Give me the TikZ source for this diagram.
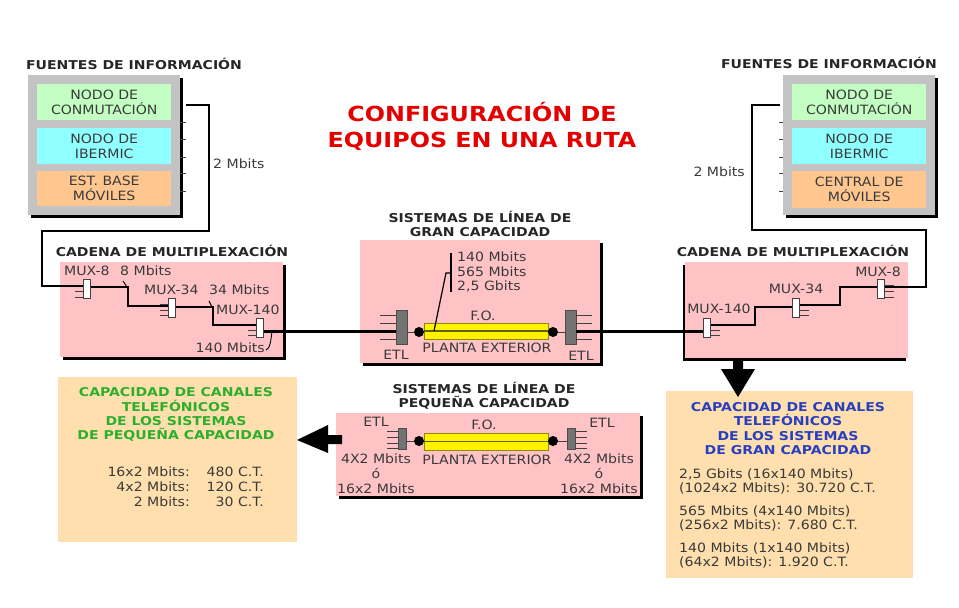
\documentclass[tikz,border=0pt]{standalone}
\usepackage{fontspec}
\setmainfont{DejaVu Sans}[FakeStretch=1.1,BoldFeatures={FakeStretch=1.15}]
\usetikzlibrary{positioning, shadows, arrows.meta}
\definecolor{gristxt}{HTML}{3A3A3A}
\definecolor{rosa}{HTML}{FFC3C6}
\definecolor{gris}{HTML}{C3C3C3}
\definecolor{verdeclaro}{HTML}{C3FFC3}
\definecolor{cian}{HTML}{8FFFFF}
\definecolor{naranja}{HTML}{FFC78F}
\definecolor{crema}{HTML}{FFDFAE}
\definecolor{oliva}{HTML}{8A8A10}
\definecolor{verdetit}{HTML}{2DAF2D}
\definecolor{azultit}{HTML}{2A3FBF}
\tikzset{
	texto/.style={text=gristxt, inner sep=0pt, align=center, font=\fontsize{12.8}{14.8}\selectfont},
	titulo/.style={text=black!85, inner sep=0pt, align=center, font=\fontsize{12.2}{14.2}\selectfont\bfseries},
	panel/.style={anchor=north west, inner sep=0pt, fill=#1, general shadow={fill=black, shadow xshift=2.5pt, shadow yshift=-2.5pt}},
	panelizq/.style={anchor=north west, inner sep=0pt, fill=#1, general shadow={fill=black, shadow xshift=-2.5pt, shadow yshift=-2.5pt}},
	fuente/.style={anchor=north west, inner sep=0pt, fill=#1, text=gristxt, align=center, font=\fontsize{12.8}{14.8}\selectfont},
	nota/.style={anchor=north west, inner sep=0pt, fill=crema},
	mux/.style={draw=black!75, fill=white, line width=1pt, inner sep=0pt, minimum width=7pt, minimum height=19pt},
	etl/.style={draw=black!70, fill=black!55, line width=.8pt, inner sep=0pt},
	fibra/.style={draw=oliva, fill=yellow, line width=1pt, inner sep=0pt, minimum width=124pt},
	trazo/.style={line width=2.6pt, black},
	hilo/.style={line width=1pt, black!75},
	punto/.style={circle, fill=black, inner sep=0pt, minimum size=10pt},
}
\begin{document}
\begin{tikzpicture}[x=1pt,y=-1pt]
		\useasboundingbox (0,0) rectangle (959,608);
		
		\node[text=red!90!black, inner sep=0pt, align=center, font=\fontsize{20.7}{26}\selectfont\bfseries] (tituloruta) at (482,126) {CONFIGURACIÓN DE\\EQUIPOS EN UNA RUTA};
		
		\node[titulo] (tfuentesizq) at (134,64) {FUENTES DE INFORMACIÓN};
		\node[panel=gris, minimum width=152pt, minimum height=140pt] (grisizq) at (28,75) {};
		\node[fuente=verdeclaro, minimum width=134pt, minimum height=36pt] (conmizq) at (37,84) {NODO DE\\CONMUTACIÓN};
		\node[fuente=cian, minimum width=134pt, minimum height=36pt] (ibeizq) at (37,128) {NODO DE\\IBERMIC};
		\node[fuente=naranja, minimum width=134pt, minimum height=35pt] (baseizq) at (37,171) {EST. BASE\\MÓVILES};
		
		\node[titulo] (tfuentesder) at (829,63) {FUENTES DE INFORMACIÓN};
		\node[panel=gris, minimum width=152pt, minimum height=140pt] (grisder) at (783,75) {};
		\node[fuente=verdeclaro, minimum width=134pt, minimum height=36pt] (conmder) at (792,84) {NODO DE\\CONMUTACIÓN};
		\node[fuente=cian, minimum width=134pt, minimum height=36pt] (ibeder) at (792,128) {NODO DE\\IBERMIC};
		\node[fuente=naranja, minimum width=134pt, minimum height=37pt] (centralder) at (792,171) {CENTRAL DE\\MÓVILES};
		
		\foreach \dy in {122,139,157,173,191} {
			\draw[hilo] (180,\dy) -- (186,\dy);
			\draw[hilo] (779,\dy) -- (783,\dy);
		}
		
		\node[titulo] (tcadenaizq) at (172,251) {CADENA DE MULTIPLEXACIÓN};
		\node[panel=rosa, minimum width=223pt, minimum height=95pt] (cadenaizq) at (60,262) {};
		\node[titulo] (tcadenader) at (793,251) {CADENA DE MULTIPLEXACIÓN};
		\node[panelizq=rosa, minimum width=223pt, minimum height=96pt] (cadenader) at (685,262) {};
		
		\node[titulo] (tgran) at (480,224) {SISTEMAS DE LÍNEA DE\\GRAN CAPACIDAD};
		\node[panel=rosa, minimum width=240pt, minimum height=123pt] (gran) at (360,240) {};
		\node[titulo] (tpeq) at (484,396) {SISTEMAS DE LÍNEA DE\\PEQUEÑA CAPACIDAD};
		\node[panel=rosa, minimum width=304pt, minimum height=83pt] (peq) at (336,413) {};
		
		\node[nota, minimum width=239pt, minimum height=165pt] (notaizq) at (58,377) {};
		\node[nota, minimum width=247pt, minimum height=187pt] (notader) at (666,391) {};
		
		\node[mux] (muxochoizq) at (86.5,289) {};
		\node[mux] (muxtreizq) at (172,307.5) {};
		\node[mux] (muxcieizq) at (260,327.5) {};
		\node[mux] (muxochoder) at (880.5,289) {};
		\node[mux] (muxtreder) at (795.5,307.5) {};
		\node[mux] (muxcieder) at (707,327.5) {};
		
		\foreach \dy in {3.5,-2.5,-8} {
			\draw[hilo] ([yshift=\dy pt]muxochoizq.west) -- ++(-8,0);
			\draw[hilo] ([yshift=\dy pt]muxtreizq.west) -- ++(-8,0);
			\draw[hilo] ([yshift=\dy pt]muxcieizq.west) -- ++(-8,0);
			\draw[hilo] ([yshift=\dy pt]muxochoder.east) -- ++(9,0);
			\draw[hilo] ([yshift=\dy pt]muxtreder.east) -- ++(9,0);
			\draw[hilo] ([yshift=\dy pt]muxcieder.east) -- ++(9,0);
		}
		
		\node[etl, minimum width=11pt, minimum height=34pt] (etlgranizq) at (401.5,327) {};
		\node[etl, minimum width=11pt, minimum height=34pt] (etlgrander) at (570.5,327) {};
		\node[etl, minimum width=8pt, minimum height=21pt] (etlpeqizq) at (402,438.5) {};
		\node[etl, minimum width=8pt, minimum height=21pt] (etlpeqder) at (571.5,438.5) {};
		
		\foreach \dy in {12,4,-5,-12} {
			\draw[hilo] ([yshift=\dy pt]etlgranizq.west) -- ++(-16,0);
			\draw[hilo] ([yshift=\dy pt]etlgrander.east) -- ++(16,0);
		}
		\foreach \dy in {7.5,1.5,-4.5,-9.5} {
			\draw[hilo] ([yshift=\dy pt]etlpeqizq.west) -- ++(-11,0);
			\draw[hilo] ([yshift=\dy pt]etlpeqder.east) -- ++(11,0);
		}
		
		\node[fibra, minimum height=16pt] (fibragran) at (486.5,331) {};
		\node[fibra, minimum height=17pt] (fibrapeq) at (486,441.5) {};
		\draw[line width=1.5pt, oliva!70!black] (fibragran.west) -- (fibragran.east);
		\draw[line width=1.5pt, oliva!70!black] (fibrapeq.west) -- (fibrapeq.east);
		\node[punto] (pgi) at (419,332) {};
		\node[punto] (pgd) at (553,332) {};
		\node[punto] (ppi) at (419,441) {};
		\node[punto] (ppd) at (553,441) {};
		\draw[hilo] (pgi) -- (etlgranizq.east |- pgi);
		\draw[hilo] (pgd) -- (etlgrander.west |- pgd);
		\draw[hilo] (ppi) -- (etlpeqizq.east |- ppi);
		\draw[hilo] (ppd) -- (etlpeqder.west |- ppd);
		
		\coordinate (cfi) at (186,105);
		\coordinate (cfd) at (780,105);
		\draw[trazo] (cfi) -| (209,231) -| (42,286) -- (muxochoizq.west |- 0,286);
		\draw[trazo] (cfd) -| (752,230) -| (926,287) -- (muxochoder.east |- 0,287);
		\draw[trazo] (muxochoizq.east |- 0,287) -| (128,306) -- (muxtreizq.west |- 0,306);
		\draw[trazo] (muxtreizq.east |- 0,307) -| (213,325) -- (muxcieizq.west |- 0,325);
		\draw[trazo] (muxochoder.west |- 0,287) -| (840,305) -- (muxtreder.east |- 0,305);
		\draw[trazo] (muxtreder.west |- 0,307) -| (755,325) -- (muxcieder.east |- 0,325);
		\draw[trazo, line width=3pt] (muxcieizq.east |- 0,331) -- (etlgranizq.west |- 0,331);
		\draw[trazo, line width=3pt] (etlgrander.east |- 0,331) -- (muxcieder.west |- 0,331);
		
		\draw[line width=.9pt] (123,281) -- (127,287);
		\draw[line width=.9pt] (209,301) -- (212,307);
		\draw[line width=.9pt] (272,331) .. controls (271,340) and (270,349) .. (266,350);
		\draw[line width=1.2pt] (451,253) -- (451,292);
		\draw[line width=1.2pt] (451,273) -- (446,273) -- (434,331);
		
		\node[texto, anchor=west] (dosizq) at (213,164) {2 Mbits};
		\node[texto, anchor=east] (dosder) at (745,172) {2 Mbits};
		\node[texto, anchor=west] (lmuxa) at (64,271) {MUX-8};
		\node[texto, anchor=west] (locho) at (120,271) {8 Mbits};
		\node[texto, anchor=west] (lmuxb) at (144,290) {MUX-34};
		\node[texto, anchor=west] (ltre) at (209,290) {34 Mbits};
		\node[texto, anchor=west] (lmuxc) at (216,310) {MUX-140};
		\node[texto, anchor=east] (lcie) at (265,348) {140 Mbits};
		\node[texto] (lmuxd) at (878,272) {MUX-8};
		\node[texto] (lmuxe) at (796,289) {MUX-34};
		\node[texto] (lmuxf) at (719,309) {MUX-140};
		
		\node[texto, align=left, anchor=west] (ltasas) at (457,272) {140 Mbits\\565 Mbits\\2,5 Gbits};
		\node[texto] (lfog) at (483,316) {F.O.};
		\node[texto] (lpeg) at (487,348) {PLANTA EXTERIOR};
		\node[texto] (letla) at (396,355) {ETL};
		\node[texto] (letlb) at (581,356) {ETL};
		
		\node[texto] (lfop) at (484,425) {F.O.};
		\node[texto] (lpep) at (487,460) {PLANTA EXTERIOR};
		\node[texto] (letlc) at (376,422) {ETL};
		\node[texto] (letld) at (602,423) {ETL};
		\node[texto] (lpeqa) at (376,474) {4X2 Mbits\\ó\\16x2 Mbits};
		\node[texto] (lpeqb) at (599,474) {4X2 Mbits\\ó\\16x2 Mbits};
		
		\fill (733,360) -- (743,360) -- (743,369) -- (755,369) -- (738,397) -- (721,369) -- (733,369) -- cycle;
		\fill (342,435) -- (342,444) -- (328,444) -- (328,453) -- (297,440) -- (328,425) -- (328,435) -- cycle;
		
		\node[titulo, text=verdetit] (tnotaizq) at (176,414.5) {CAPACIDAD DE CANALES\\TELEFÓNICOS\\DE LOS SISTEMAS\\DE PEQUEÑA CAPACIDAD};
		\node[titulo, text=azultit] (tnotader) at (788,428.5) {CAPACIDAD DE CANALES\\TELEFÓNICOS\\DE LOS SISTEMAS\\DE GRAN CAPACIDAD};
		\node[texto, align=right, anchor=east] (lcapa) at (190,487) {16x2 Mbits:\\4x2 Mbits:\\2 Mbits:};
		\node[texto, align=right, anchor=east] (lcapb) at (264,487) {480 C.T.\\120 C.T.\\30 C.T.};
		\node[texto, align=left, anchor=west] (lgrana) at (679,481.5) {2,5 Gbits (16x140 Mbits)\\(1024x2 Mbits): 30.720 C.T.};
		\node[texto, align=left, anchor=west] (lgranb) at (679,518.5) {565 Mbits (4x140 Mbits)\\(256x2 Mbits): 7.680 C.T.};
		\node[texto, align=left, anchor=west] (lgranc) at (679,555.5) {140 Mbits (1x140 Mbits)\\(64x2 Mbits): 1.920 C.T.};
		
		\end{tikzpicture}
\end{document}
